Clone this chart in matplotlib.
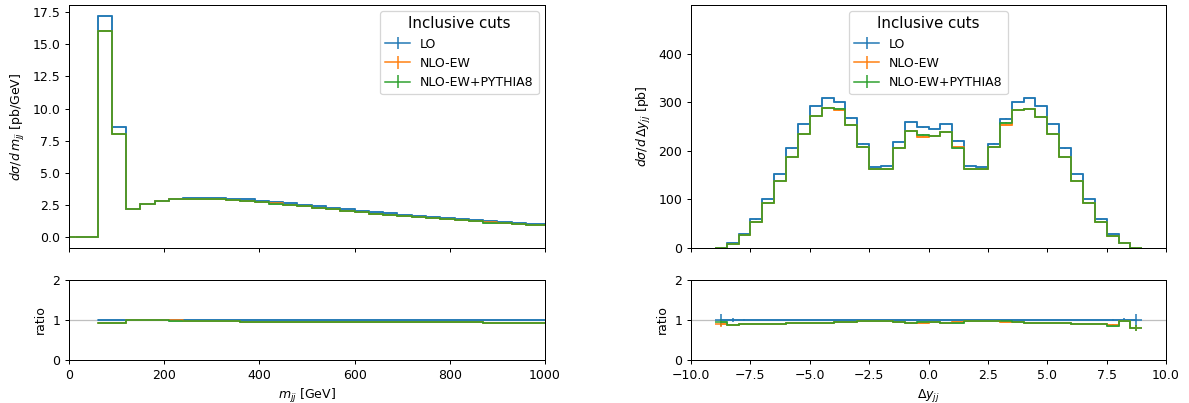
import numpy as np
import matplotlib.pyplot as plt

# m_jj distribution, 30 GeV bins
mjj_edges = np.arange(0, 1021, 30)
mjj_lo = [0, 0, 17.2, 8.6, 2.16, 2.58, 2.81, 2.97, 3.05, 3.05, 3.05, 2.99, 2.92, 2.83,
          2.73, 2.62, 2.50, 2.38, 2.26, 2.14, 2.03, 1.93, 1.83, 1.73, 1.63, 1.54, 1.45,
          1.37, 1.29, 1.22, 1.15, 1.09, 1.03, 0.98]
mjj_nlo = [0, 0, 16.0, 8.0, 2.14, 2.55, 2.78, 2.94, 2.97, 2.96, 2.95, 2.89, 2.81, 2.71,
           2.61, 2.50, 2.39, 2.27, 2.16, 2.05, 1.92, 1.82, 1.72, 1.63, 1.53, 1.45, 1.36,
           1.29, 1.21, 1.13, 1.07, 1.01, 0.96, 0.91]
mjj_py8 = [0, 0, 16.0, 7.98, 2.15, 2.56, 2.78, 2.93, 2.98, 2.97, 2.95, 2.89, 2.80, 2.71,
           2.60, 2.50, 2.39, 2.27, 2.15, 2.04, 1.91, 1.82, 1.72, 1.63, 1.53, 1.45, 1.36,
           1.29, 1.21, 1.12, 1.06, 1.01, 0.95, 0.90]

# delta y_jj distribution, 0.5 bins
dy_edges = np.arange(-9, 9.01, 0.5)
dy_lo = [1.0, 10, 29, 59, 101, 152, 205, 255, 292, 309, 300, 267, 215, 167, 169, 218,
         259, 248, 245, 255, 221, 169, 167, 215, 266, 300, 309, 292, 255, 205, 152, 101,
         59, 29, 10, 1.0]
dy_nlo = [0.9, 8.8, 26, 53, 92, 138, 188, 234, 271, 288, 283, 254, 208, 163, 163, 206,
          240, 229, 230, 239, 208, 163, 162, 208, 254, 283, 287, 270, 234, 188, 138, 92,
          53, 25.5, 9.7, 0.8]
dy_py8 = [0.95, 8.8, 26, 53, 92, 138, 188, 234, 271, 288, 286, 254, 208, 163, 163, 206,
          240, 233, 230, 239, 206, 163, 162, 208, 258, 283, 287, 270, 234, 188, 138, 92,
          53, 25, 9.7, 0.8]
dy_lo_err = [0.15, 0.5, 0.4, 0.4, 0.5, 0.5, 0.6, 0.6, 0.6, 0.6, 0.6, 0.6, 0.5, 0.5, 0.5, 0.5,
             0.6, 0.6, 0.6, 0.6, 0.5, 0.5, 0.5, 0.5, 0.6, 0.6, 0.6, 0.6, 0.6, 0.6, 0.5, 0.5,
             0.4, 0.4, 0.5, 0.15]
dy_nlo_err = [0.08, 0.3, 0.3, 0.4, 0.5, 0.5, 0.6, 0.6, 0.6, 0.6, 0.6, 0.6, 0.5, 0.5, 0.5, 0.5,
              0.6, 0.6, 0.6, 0.6, 0.5, 0.5, 0.5, 0.5, 0.6, 0.6, 0.6, 0.6, 0.6, 0.6, 0.5, 0.5,
              0.4, 0.3, 0.3, 0.08]

labels = ['LO', 'NLO-EW', 'NLO-EW+PYTHIA8']
colors = ['C0', 'C1', 'C2']

fig = plt.figure(figsize=(1189 / 90, 403 / 90), dpi=90)
W, H = 1189, 403


def axes_px(x0, x1, y0, y1):
    return fig.add_axes([x0 / W, 1 - y1 / H, (x1 - x0) / W, (y1 - y0) / H])


def draw(ax, axr, edges, series, errs, legend_loc):
    edges = np.asarray(edges, dtype=float)
    centers = 0.5 * (edges[1:] + edges[:-1])
    lo = np.asarray(series[0], dtype=float)
    handles = []
    for vals, err, col, lab in zip(series, errs, colors, labels):
        vals = np.asarray(vals, dtype=float)
        err = np.asarray(err, dtype=float)
        ax.stairs(vals, edges, color=col, lw=1.2, baseline=None)
        h = ax.errorbar(centers, vals, yerr=err, color=col, lw=1.2,
                        drawstyle='steps-mid', label=lab)
        handles.append(h)
        ok = lo > 0
        ratio = np.where(ok, vals / np.where(ok, lo, 1), np.nan)
        rerr = np.where(ok, err / np.where(ok, lo, 1), np.nan)
        axr.stairs(ratio, edges, color=col, lw=1.2, baseline=None)
        axr.errorbar(centers, ratio, yerr=rerr, color=col, lw=1.2,
                     drawstyle='steps-mid')
    axr.axhline(1, color='0.75', lw=1, zorder=0)
    axr.set_ylim(0, 2)
    axr.set_yticks([0, 1, 2])
    axr.set_ylabel('ratio')
    ax.tick_params(labelbottom=False)
    ax.legend(handles=handles, labels=labels, title='Inclusive cuts',
              title_fontsize=12, loc=legend_loc)


# left: m_jj
ax1 = axes_px(69, 545, 5, 248)
ax1r = axes_px(69, 545, 280, 360)
zeros = np.zeros(len(mjj_lo))
draw(ax1, ax1r, mjj_edges, [mjj_lo, mjj_nlo, mjj_py8], [zeros, zeros, zeros], 'upper right')
ax1.set_xlim(0, 1000)
ax1r.set_xlim(0, 1000)
ax1.set_ylabel(r'$d\sigma/d\,m_{jj}$ [pb/GeV]')
ax1r.set_xlabel(r'$m_{jj}$ [GeV]')

# right: delta y_jj
ax2 = axes_px(691, 1166, 5, 248)
ax2r = axes_px(691, 1166, 280, 360)
draw(ax2, ax2r, dy_edges, [dy_lo, dy_nlo, dy_py8], [dy_lo_err, dy_nlo_err, dy_nlo_err], 'upper center')
ax2.set_xlim(-10, 10)
ax2r.set_xlim(-10, 10)
ax2.set_ylim(0, 500)
ax2.set_yticks([0, 100, 200, 300, 400])
ax2.set_ylabel(r'$d\sigma/d\,\Delta y_{jj}$ [pb]')
ax2r.set_xlabel(r'$\Delta y_{jj}$')

fig.savefig('out.png', dpi=90)
